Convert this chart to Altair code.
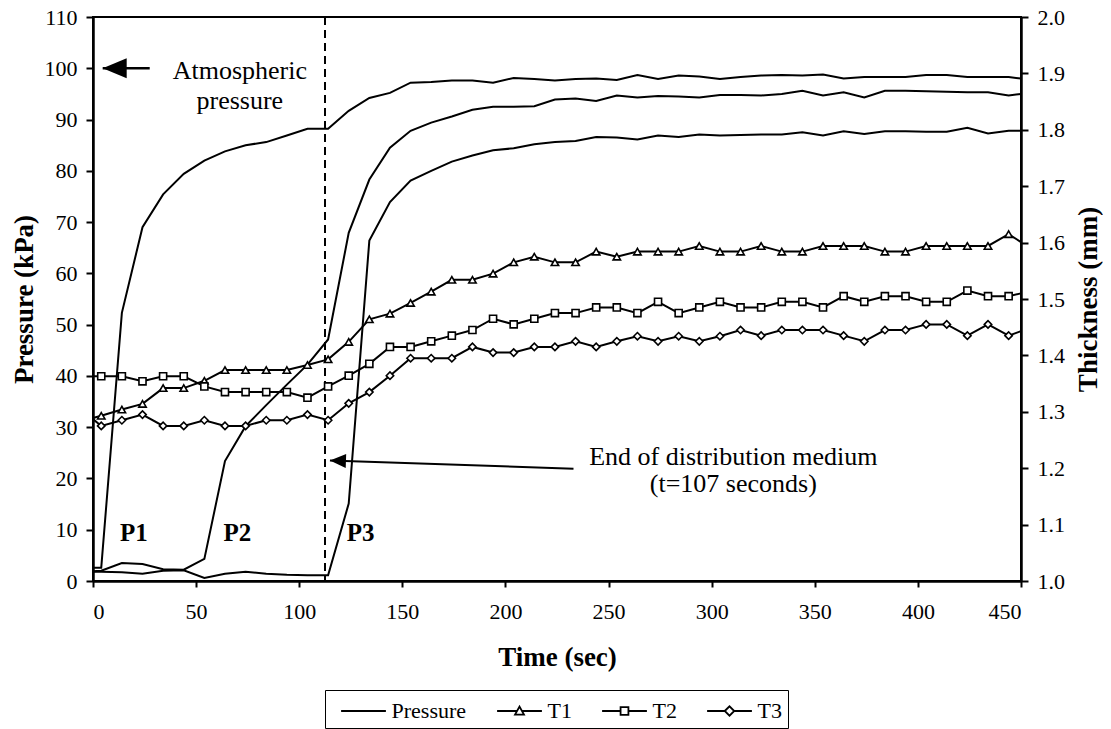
import altair as alt
import pandas as pd

FONT = "Liberation Serif"

# ---------------- data ----------------
times = [0, 4, 14, 24, 34, 44, 54, 64, 74, 84, 94, 104, 114, 124, 134, 144, 154, 164,
         174, 184, 194, 204, 214, 224, 234, 244, 254, 264, 274, 284, 294, 304, 314, 324,
         334, 344, 354, 364, 374, 384, 394, 404, 414, 424, 434, 444, 450]

pressure_p1 = [2.6, 2.6, 52.3, 69.0, 75.4, 79.4, 82.0, 83.8, 85.0, 85.6, 86.9, 88.2, 88.2,
               91.7, 94.2, 95.2, 97.2, 97.3, 97.6, 97.6, 97.2, 98.1, 97.9, 97.6, 97.9, 98.0,
               97.7, 98.7, 97.9, 98.6, 98.4, 97.9, 98.3, 98.6, 98.7, 98.6, 98.8, 98.0, 98.3,
               98.3, 98.3, 98.7, 98.7, 98.3, 98.3, 98.3, 98.0]
pressure_p2 = [1.9, 2.0, 3.5, 3.3, 2.3, 2.2, 4.3, 23.4, 30.2, 34.3, 38.3, 42.2, 47.1,
               67.9, 78.3, 84.5, 87.8, 89.4, 90.6, 91.9, 92.5, 92.5, 92.6, 93.9, 94.1, 93.6,
               94.7, 94.3, 94.6, 94.5, 94.3, 94.8, 94.8, 94.7, 95.0, 95.6, 94.7, 95.3, 94.3,
               95.6, 95.6, 95.5, 95.4, 95.3, 95.3, 94.7, 95.0]
pressure_p3 = [1.8, 1.8, 1.7, 1.4, 2.0, 2.1, 0.6, 1.4, 1.8, 1.4, 1.2, 1.1, 1.1,
               15.1, 66.4, 73.9, 78.1, 80.0, 81.8, 83.0, 84.0, 84.4, 85.2, 85.6, 85.8, 86.6,
               86.5, 86.1, 86.9, 86.6, 87.1, 86.9, 87.0, 87.1, 87.1, 87.5, 86.9, 87.7, 87.2,
               87.7, 87.7, 87.6, 87.6, 88.4, 87.3, 87.8, 87.8]

thick_t1 = [1.289, 1.293, 1.304, 1.314, 1.342, 1.342, 1.355, 1.374, 1.374, 1.374, 1.374, 1.383, 1.393,
            1.424, 1.464, 1.474, 1.493, 1.513, 1.534, 1.534, 1.545, 1.565, 1.575, 1.565, 1.565, 1.584,
            1.575, 1.584, 1.584, 1.584, 1.594, 1.584, 1.584, 1.594, 1.584, 1.584, 1.594, 1.594, 1.594,
            1.584, 1.584, 1.594, 1.594, 1.594, 1.594, 1.615, 1.601]
thick_t2 = [1.363, 1.363, 1.363, 1.354, 1.363, 1.363, 1.345, 1.335, 1.335, 1.335, 1.335, 1.325, 1.345,
            1.364, 1.385, 1.415, 1.415, 1.425, 1.435, 1.445, 1.465, 1.455, 1.465, 1.475, 1.475, 1.485,
            1.485, 1.475, 1.495, 1.475, 1.485, 1.495, 1.485, 1.485, 1.495, 1.495, 1.485, 1.505, 1.495,
            1.505, 1.505, 1.495, 1.495, 1.515, 1.505, 1.505, 1.510]
thick_t3 = [1.287, 1.275, 1.285, 1.295, 1.275, 1.275, 1.285, 1.275, 1.275, 1.285, 1.285, 1.295, 1.285,
            1.315, 1.335, 1.364, 1.395, 1.395, 1.395, 1.415, 1.405, 1.405, 1.415, 1.415, 1.425, 1.415,
            1.425, 1.434, 1.425, 1.434, 1.425, 1.434, 1.445, 1.435, 1.445, 1.445, 1.445, 1.435, 1.425,
            1.445, 1.445, 1.455, 1.455, 1.435, 1.455, 1.435, 1.443]

run_names = ["P1", "P2", "P3"]
series_names = ["Pressure", "T1", "T2", "T3"]
thick_names = ["T1", "T2", "T3"]

x_ticks = [0, 50, 100, 150, 200, 250, 300, 350, 400, 450]
y_left_ticks = [0, 10, 20, 30, 40, 50, 60, 70, 80, 90, 100, 110]
y_right_ticks = [1.0, 1.1, 1.2, 1.3, 1.4, 1.5, 1.6, 1.7, 1.8, 1.9, 2.0]

# annotations (in data coordinates)
end_medium_time = [112.5]
atm_arrow_time = [4.7]
atm_arrow_tail = [27.5]
atm_arrow_pressure = [100]
atm_text = ["Atmospheric", "pressure"]
atm_text_time = [71.2, 71.2]
atm_text_pressure = [97.9, 92.0]
end_arrow_time = [114.9]
end_arrow_pressure = [23.5]
end_arrow_tail_time = [233.0]
end_arrow_tail_pressure = [21.9]
end_text = ["End of distribution medium", "(t=107 seconds)"]
end_text_time = [310.5, 310.5]
end_text_pressure = [22.7, 17.3]
p_labels = ["P1", "P2", "P3"]
p_label_time = [19.8, 70.0, 129.8]
p_label_pressure = [7.8, 7.8, 7.8]

# ---------------- tables ----------------
press_df = pd.concat([
    pd.DataFrame({"time": times, "pressure": vals, "run": name})
    for name, vals in zip(run_names, [pressure_p1, pressure_p2, pressure_p3])
], ignore_index=True)

thick_df = pd.concat([
    pd.DataFrame({"time": times, "thickness": vals, "series": name})
    for name, vals in zip(thick_names, [thick_t1, thick_t2, thick_t3])
], ignore_index=True)

# ---------------- scales / axes ----------------
xs = alt.Scale(domain=[0, 450], nice=False, zero=False)
yl = alt.Scale(domain=[0, 110], nice=False)
yr = alt.Scale(domain=[1.0, 2.0], nice=False, zero=False)

x_axis = alt.Axis(values=x_ticks, title="Time (sec)", tickSize=6, labelPadding=14,
                  titleX=464, titleY=84, titleBaseline="alphabetic", titleAlign="center")
yl_axis = alt.Axis(values=y_left_ticks, title="Pressure (kPa)", tickSize=7, labelPadding=9,
                   titleAngle=270, titleX=-61, titleY=282, titleAlign="center",
                   titleBaseline="alphabetic")
yr_axis = alt.Axis(values=y_right_ticks, orient="right", format=".1f", title="Thickness (mm)",
                   tickSize=7, labelPadding=9, titleAngle=270, titleX=75, titleY=282,
                   titleAlign="center", titleBaseline="alphabetic")


def X(field="time"):
    return alt.X(f"{field}:Q", scale=xs, axis=x_axis)


def YL(field="pressure"):
    return alt.Y(f"{field}:Q", scale=yl, axis=yl_axis)


def YR(field="thickness"):
    return alt.Y(f"{field}:Q", scale=yr, axis=yr_axis)


# ---------------- left (pressure) layer ----------------
pressure_lines = alt.Chart(press_df).mark_line(color="black", strokeWidth=2).encode(
    x=X(), y=YL(), detail="run:N")

dash_rule = alt.Chart(pd.DataFrame({"time": end_medium_time})).mark_rule(
    color="black", strokeWidth=2, strokeDash=[8, 5]).encode(x=X())

atm_shaft = alt.Chart(pd.DataFrame({"time": atm_arrow_time, "time2": atm_arrow_tail,
                                     "pressure": atm_arrow_pressure})).mark_rule(
    color="black", strokeWidth=2.5).encode(x=X(), x2="time2:Q", y=YL())
atm_head = alt.Chart(pd.DataFrame({"time": atm_arrow_time, "pressure": atm_arrow_pressure})).mark_point(
    shape="M0,0L1,-0.42L1,0.42Z", size=2304, filled=True, color="black", opacity=1,
    strokeWidth=0).encode(x=X(), y=YL())
atm_label = alt.Chart(pd.DataFrame({"time": atm_text_time, "pressure": atm_text_pressure,
                                     "txt": atm_text})).mark_text(
    font=FONT, fontSize=26, color="black", align="center", baseline="alphabetic").encode(
    x=X(), y=YL(), text="txt:N")

end_shaft = alt.Chart(pd.DataFrame({"time": end_arrow_time, "pressure": end_arrow_pressure,
                                     "time2": end_arrow_tail_time,
                                     "pressure2": end_arrow_tail_pressure})).mark_rule(
    color="black", strokeWidth=2).encode(x=X(), y=YL(), x2="time2:Q", y2="pressure2:Q")
end_head = alt.Chart(pd.DataFrame({"time": end_arrow_time, "pressure": end_arrow_pressure})).mark_point(
    shape="M0,0L1,-0.44L1,0.44Z", size=1024, filled=True, color="black", opacity=1,
    strokeWidth=0, angle=2).encode(x=X(), y=YL())
end_label = alt.Chart(pd.DataFrame({"time": end_text_time, "pressure": end_text_pressure,
                                     "txt": end_text})).mark_text(
    font=FONT, fontSize=26, color="black", align="center", baseline="alphabetic").encode(
    x=X(), y=YL(), text="txt:N")

p_label_chart = alt.Chart(pd.DataFrame({"time": p_label_time, "pressure": p_label_pressure,
                                         "txt": p_labels})).mark_text(
    font=FONT, fontSize=25, fontWeight="bold", color="black", align="center",
    baseline="alphabetic").encode(x=X(), y=YL(), text="txt:N")

# legend symbols: a line with the series marker, drawn as custom paths
legend_paths = [
    "M-1.6,0L1.6,0",
    "M-1.6,0L-0.18,0M0.18,0L1.6,0M-0.32,0.26L0,-0.32L0.32,0.26Z",
    "M-1.6,0L-0.28,0M0.28,0L1.6,0M-0.28,-0.28L0.28,-0.28L0.28,0.28L-0.28,0.28Z",
    "M-1.6,0L-0.34,0M0.34,0L1.6,0M-0.34,0L0,-0.34L0.34,0L0,0.34Z",
]
legend_layer = alt.Chart(pd.DataFrame({"series": series_names})).mark_point(
    filled=False, color="black", strokeWidth=1.8, opacity=1, clip=True).encode(
    x=alt.value(-2000), y=alt.value(-2000),
    shape=alt.Shape("series:N", scale=alt.Scale(domain=series_names, range=legend_paths),
                    legend=alt.Legend(
                        title=None, orient="none", legendX=232, legendY=673,
                        direction="horizontal", symbolSize=784, symbolStrokeWidth=1.8,
                        symbolStrokeColor="black", symbolOpacity=1, symbolOffset=17.5,
                        labelFont=FONT, labelFontSize=22, labelColor="black", labelOffset=13,
                        columnPadding=20, padding=6, strokeColor="black", fillColor="white",
                        labelLimit=0)))

left = alt.layer(pressure_lines, dash_rule, atm_shaft, atm_head, atm_label,
                 end_shaft, end_head, end_label, p_label_chart, legend_layer)

# ---------------- right (thickness) layer ----------------
thick_lines = alt.Chart(thick_df).mark_line(color="black", strokeWidth=2).encode(
    x=X(), y=YR(), detail="series:N")

marker_shapes = {"T1": ("triangle-up", 55), "T2": ("square", 50), "T3": ("diamond", 55)}
marker_layers = []
for name in thick_names:
    shp, sz = marker_shapes[name]
    marker_layers.append(
        alt.Chart(thick_df).transform_filter(
            f"datum.series == '{name}' && datum.time > 0 && datum.time < 450").mark_point(
            shape=shp, size=sz, filled=True, fill="white", stroke="black", strokeWidth=1.6,
            opacity=1).encode(x=X(), y=YR()))

right = alt.layer(thick_lines, *marker_layers)

chart = alt.layer(left, right).resolve_scale(y="independent").properties(
    width=928, height=564,
    autosize=alt.AutoSizeParams(type="none"),
    padding={"left": 85, "top": 9, "right": 82, "bottom": 150},
).configure_view(stroke="black", strokeWidth=2).configure_axis(
    grid=False, domainColor="black", domainWidth=2.5, tickColor="black", tickWidth=2,
    labelFont=FONT, labelFontSize=22, labelColor="black",
    titleFont=FONT, titleFontSize=27, titleFontWeight="bold", titleColor="black",
).configure_legend(labelFont=FONT)

chart.save("out.html", embed_options={"renderer": "svg", "actions": False})
